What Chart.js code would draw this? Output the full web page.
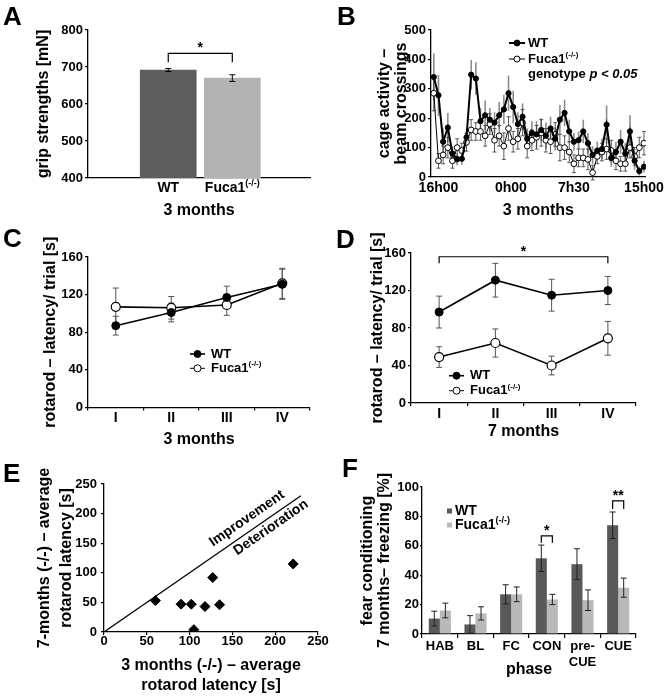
<!DOCTYPE html>
<html><head><meta charset="utf-8">
<script src="https://cdn.jsdelivr.net/npm/chart.js@4.4.1/dist/chart.umd.min.js"></script>
<style>
html,body{margin:0;padding:0;background:#fff;}
#wrap{position:relative;width:668px;height:696px;overflow:hidden;background:#fff;}
canvas{position:absolute;}
</style></head><body>
<div id="wrap">
<canvas id="cA" width="334" height="222" style="left:0;top:0"></canvas>
<canvas id="cB" width="334" height="222" style="left:334px;top:0"></canvas>
<canvas id="cC" width="334" height="234" style="left:0;top:218px"></canvas>
<canvas id="cD" width="334" height="234" style="left:334px;top:218px"></canvas>
<canvas id="cE" width="334" height="251" style="left:0;top:445px"></canvas>
<canvas id="cF" width="334" height="251" style="left:334px;top:445px"></canvas>
</div>
<script>
// ---------------- DATA ----------------
const seriesNames = ['WT', 'Fuca1'];
const koSup = '(-/-)';

// A: grip strength
const gripMean = [692, 670];
const gripErr = [4, 9];
const gripSig = [737, 713]; // bracket top / leg end

// B: cage activity (half-hour bins)
const cageTickLabels = ['16h00', '0h00', '7h30', '15h00'];
const cageTickPos = [1, 16.5, 30, 45];
const cageWT = [340,278,120,168,80,60,62,135,348,335,190,210,195,185,210,230,285,238,180,205,130,150,145,160,140,165,130,195,218,155,120,125,155,115,75,90,95,178,65,85,120,80,155,55,20,35];
const cageWTErr = [80,70,45,50,25,20,20,30,50,55,45,50,40,35,45,50,60,55,40,45,35,40,45,40,45,40,40,50,45,40,30,30,40,35,30,30,35,65,30,35,40,35,55,30,15,20];
const cageKO = [285,55,75,100,55,100,90,118,160,155,155,140,180,125,140,105,165,120,130,185,105,125,135,150,125,120,145,100,100,85,45,65,65,60,15,70,85,95,90,55,45,45,100,70,100,115];
const cageKOErr = [60,25,30,35,25,30,25,30,35,30,30,35,35,40,35,45,40,35,35,45,40,35,40,45,40,40,40,45,40,35,30,30,30,35,25,25,30,35,35,30,25,25,35,30,35,40];

// C / D: rotarod
const trials = ['I', 'II', 'III', 'IV'];
const rot3WT = [87, 101, 117, 131];
const rot3WTErr = [10, 10, 12, 16];
const rot3KO = [107, 106, 109, 132];
const rot3KOErr = [20, 12, 11, 16];
const rot7WT = [97, 131, 115, 120];
const rot7WTErr = [17, 18, 17, 15];
const rot7KO = [49, 64, 40, 69];
const rot7KOErr = [11, 15, 10, 18];
const rot7Sig = [156, 149];

// E: scatter 3 vs 7 months
const rotX3 = [60, 90, 102, 105, 118, 127, 135, 221];
const rotY7 = [53, 47, 47, 4, 43, 92, 46, 115];
const diagX = [0, 230];
const diagY = [0, 230];

// F: fear conditioning
const phases = ['HAB', 'BL', 'FC', 'CON', ['pre-', 'CUE'], 'CUE'];
const fearWT = [10.5, 6.5, 27, 51.5, 47.5, 74];
const fearWTErr = [5, 6, 6.5, 9, 10.5, 9];
const fearKO = [16, 14, 27, 23.5, 23, 31.5];
const fearKOErr = [5, 4.5, 5, 3.5, 7, 6.5];
const fearSig = [{i: 3, top: 66.7, leg: 62, label: '*'}, {i: 5, top: 90.5, leg: 85, label: '**'}];

// ---------------- HELPERS ----------------
const FAM = '"Liberation Sans", Arial, Helvetica, sans-serif';
Chart.defaults.font.family = FAM;
Chart.defaults.font.weight = 'bold';
Chart.defaults.font.size = 13;
Chart.defaults.color = '#000';

function rich(ctx, x, y, segs, size, align) {
  const f = s => (s === 'i' ? 'italic bold ' : 'bold ') + (s === 's' ? Math.round(size * 0.62) : size) + 'px ' + FAM;
  let w = 0;
  for (const [t, s] of segs) { ctx.font = f(s); w += ctx.measureText(t).width; }
  let cx = align === 'center' ? x - w / 2 : align === 'right' ? x - w : x;
  ctx.textAlign = 'left'; ctx.textBaseline = 'middle'; ctx.fillStyle = '#000';
  for (const [t, s] of segs) { ctx.font = f(s); ctx.fillText(t, cx, s === 's' ? y - size * 0.33 : y); cx += ctx.measureText(t).width; }
}
const koSegs = [[seriesNames[1], 'n'], [koSup, 's']];

function letter(ctx, L, x, y) {
  ctx.save(); ctx.font = 'bold 26px ' + FAM; ctx.fillStyle = '#000';
  ctx.textAlign = 'left'; ctx.textBaseline = 'alphabetic'; ctx.fillText(L, x, y); ctx.restore();
}
function bracket(ctx, x1, x2, yTop, yLeg, label, size) {
  ctx.save(); ctx.strokeStyle = '#000'; ctx.lineWidth = 1.2;
  ctx.beginPath(); ctx.moveTo(x1, yLeg); ctx.lineTo(x1, yTop); ctx.lineTo(x2, yTop); ctx.lineTo(x2, yLeg); ctx.stroke();
  ctx.font = 'bold ' + size + 'px ' + FAM; ctx.fillStyle = '#000'; ctx.textAlign = 'center'; ctx.textBaseline = 'alphabetic';
  ctx.fillText(label, (x1 + x2) / 2, yTop - 1); ctx.restore();
}
function legLine(ctx, x1, x2, y, lw, filled, r) {
  ctx.save(); ctx.strokeStyle = '#000'; ctx.lineWidth = lw;
  ctx.beginPath(); ctx.moveTo(x1, y); ctx.lineTo(x2, y); ctx.stroke();
  ctx.beginPath(); ctx.arc((x1 + x2) / 2, y, r, 0, Math.PI * 2);
  ctx.fillStyle = filled ? '#000' : '#fff'; ctx.fill(); ctx.lineWidth = 1; ctx.stroke(); ctx.restore();
}

function drawErr(chart, behind) {
  const ctx = chart.ctx;
  chart.data.datasets.forEach((ds, di) => {
    const eb = ds.errorBars;
    if (!eb || (!!eb.behind) !== behind) return;
    const meta = chart.getDatasetMeta(di);
    const ys = chart.scales[meta.yAxisID];
    ctx.save(); ctx.strokeStyle = eb.color; ctx.lineWidth = eb.width;
    meta.data.forEach((el, i) => {
      const raw = ds.data[i];
      const v = (typeof raw === 'object') ? raw.y : raw;
      const e = eb.values[i];
      const x = el.x, y1 = ys.getPixelForValue(v + e), y2 = ys.getPixelForValue(v - e);
      ctx.beginPath(); ctx.moveTo(x, y1); ctx.lineTo(x, y2);
      if (eb.cap) {
        ctx.moveTo(x - eb.cap, y1); ctx.lineTo(x + eb.cap, y1);
        ctx.moveTo(x - eb.cap, y2); ctx.lineTo(x + eb.cap, y2);
      }
      ctx.stroke();
    });
    ctx.restore();
  });
}
const errPlugin = {
  id: 'errbars',
  beforeDatasetsDraw(c) { drawErr(c, true); },
  afterDatasetsDraw(c) { drawErr(c, false); }
};

function yAxis(min, max, step, width, title, tpad, lh, tl, pad) {
  return {
    type: 'linear', min, max,
    ticks: {stepSize: step, font: {size: 13, weight: 'bold'}, color: '#000', padding: pad},
    grid: {drawOnChartArea: false, drawTicks: true, tickLength: tl, color: '#000', lineWidth: 1.2},
    border: {color: '#000', width: 1.3},
    title: {display: true, text: title, color: '#000', font: {size: 16, weight: 'bold', lineHeight: lh}, padding: {top: tpad, bottom: 0}},
    afterFit(s) { s.width = width; }
  };
}
function xTitle(text, pb, lh) {
  return {display: true, text, color: '#000', font: {size: 16, weight: 'bold', lineHeight: lh || 1.2}, padding: {top: 0, bottom: pb}};
}
function baseOpts(pad) {
  return {
    responsive: false, animation: false, devicePixelRatio: 1,
    layout: {padding: pad},
    plugins: {legend: {display: false}, tooltip: {enabled: false}}
  };
}

// ---------------- A ----------------
new Chart(document.getElementById('cA'), {
  type: 'bar',
  data: {datasets: [{
    data: gripMean.map((v, i) => ({x: i + 1, y: v})),
    backgroundColor: ['#5e5e5e', '#b3b3b3'], barThickness: 56,
    errorBars: {values: gripErr, color: '#000', width: 1, cap: 3}
  }]},
  options: Object.assign(baseOpts({left: 0, top: 30, right: 24, bottom: 0}), {
    scales: {
      x: {type: 'linear', min: 0.18, max: 2.78, ticks: {display: false}, grid: {display: false},
          border: {color: '#000', width: 1.3}, title: xTitle('3 months', 1.4), afterFit(s) { s.height = 44; }},
      y: yAxis(400, 800, 100, 88, 'grip strengths [mN]', 34.4, 1.2, 3, 2)
    }
  }),
  plugins: [errPlugin, {id: 'exA', afterDraw(c) {
    const ctx = c.ctx, m = c.getDatasetMeta(0), y = c.scales.y;
    letter(ctx, 'A', 3, 25);
    rich(ctx, m.data[0].x, 188, [[seriesNames[0], 'n']], 14, 'center');
    rich(ctx, m.data[1].x, 188, koSegs, 14, 'center');
    bracket(ctx, m.data[0].x, m.data[1].x, y.getPixelForValue(gripSig[0]), y.getPixelForValue(gripSig[1]), '*', 14);
  }}]
});

// ---------------- B ----------------
new Chart(document.getElementById('cB'), {
  type: 'line',
  data: {datasets: [
    {data: cageWT.map((v, i) => ({x: i, y: v})), borderColor: '#000', borderWidth: 2, tension: 0,
     pointRadius: 2.6, pointBackgroundColor: '#000', pointBorderColor: '#000', pointBorderWidth: 1,
     errorBars: {values: cageWTErr, color: '#8c8c8c', width: 1.6, cap: 0, behind: true}},
    {data: cageKO.map((v, i) => ({x: i, y: v})), borderColor: '#000', borderWidth: 1, tension: 0,
     pointRadius: 2.9, pointBackgroundColor: '#fff', pointBorderColor: '#000', pointBorderWidth: 1,
     errorBars: {values: cageKOErr, color: '#333', width: 0.8, cap: 2, behind: true}}
  ]},
  options: Object.assign(baseOpts({left: 0, top: 30, right: 22, bottom: 0}), {
    scales: {
      x: {type: 'linear', min: -0.6, max: 45.4,
          afterBuildTicks(s) { s.ticks = cageTickPos.map(v => ({value: v})); },
          ticks: {autoSkip: false, maxRotation: 0, font: {size: 14, weight: 'bold', lineHeight: 1}, padding: 4, color: '#000',
                  callback: v => { const k = cageTickPos.indexOf(v); return k >= 0 ? cageTickLabels[k] : ''; }},
          grid: {display: false, drawTicks: false}, border: {color: '#000', width: 1.3},
          title: xTitle('3 months', 1.4), afterFit(s) { s.height = 45; }},
      y: yAxis(0, 500, 100, 97, ['cage activity –', 'beam crossings'], 41.8, 1.06, 3, 2)
    }
  }),
  plugins: [errPlugin, {id: 'exB', afterDraw(c) {
    const ctx = c.ctx;
    letter(ctx, 'B', 3, 25);
    legLine(ctx, 175, 191, 43, 2, true, 3);
    rich(ctx, 194, 43, [[seriesNames[0], 'n']], 13, 'left');
    legLine(ctx, 175, 191, 59, 1, false, 3);
    rich(ctx, 194, 59, koSegs, 13, 'left');
    rich(ctx, 194, 74, [['genotype ', 'n'], ['p < 0.05', 'i']], 13, 'left');
  }}]
});

// ---------------- C / D ----------------
function rotChart(id, wt, wtE, ko, koE, area, yW, yTpad, xH, xPb, xTitleText, tickPad, draw) {
  return new Chart(document.getElementById(id), {
    type: 'line',
    data: {labels: trials, datasets: [
      {data: wt, borderColor: '#000', borderWidth: 1.6, tension: 0, pointRadius: 4,
       pointBackgroundColor: '#000', pointBorderColor: '#000', pointBorderWidth: 1,
       errorBars: {values: wtE, color: '#555', width: 1, cap: 3, behind: true}},
      {data: ko, borderColor: '#000', borderWidth: 1.6, tension: 0, pointRadius: 4.5,
       pointBackgroundColor: '#fff', pointBorderColor: '#000', pointBorderWidth: 1.2,
       errorBars: {values: koE, color: '#555', width: 1, cap: 3, behind: true}}
    ]},
    options: Object.assign(baseOpts(area), {
      scales: {
        x: {type: 'category', offset: true,
            grid: {offset: true, drawOnChartArea: false, drawTicks: true, tickLength: 3, color: '#000', lineWidth: 1.2},
            border: {color: '#000', width: 1.3},
            ticks: {font: {size: 14, weight: 'bold', lineHeight: 1}, padding: tickPad, color: '#000'},
            title: xTitle(xTitleText, xPb), afterFit(s) { s.height = xH; }},
        y: yAxis(0, 160, 40, yW, 'rotarod – latency/ trial [s]', yTpad, 1.2, 3, 2)
      }
    }),
    plugins: [errPlugin, {id: 'ex' + id, afterDraw: draw}]
  });
}
rotChart('cC', rot3WT, rot3WTErr, rot3KO, rot3KOErr, {left: 0, top: 39, right: 24, bottom: 0}, 88, 41.4, 44.5, 2.9, '3 months', 1, c => {
  const ctx = c.ctx;
  letter(ctx, 'C', 3, 29);
  legLine(ctx, 190, 205, 136, 1.6, true, 3.5);
  rich(ctx, 211, 136, [[seriesNames[0], 'n']], 13, 'left');
  legLine(ctx, 190, 205, 150.3, 1, false, 3.5);
  rich(ctx, 211, 150.3, koSegs, 13, 'left');
});
rotChart('cD', rot7WT, rot7WTErr, rot7KO, rot7KOErr, {left: 0, top: 35, right: 32, bottom: 0}, 77, 34.4, 49, 10.4, '7 months', 1, c => {
  const ctx = c.ctx, y = c.scales.y, m = c.getDatasetMeta(0);
  letter(ctx, 'D', 2, 30);
  bracket(ctx, m.data[0].x, m.data[3].x, y.getPixelForValue(rot7Sig[0]), y.getPixelForValue(rot7Sig[1]), '*', 14);
  legLine(ctx, 115, 130, 157.7, 1.6, true, 3.5);
  rich(ctx, 136, 157.7, [[seriesNames[0], 'n']], 13, 'left');
  legLine(ctx, 115, 130, 172.7, 1, false, 3.5);
  rich(ctx, 136, 172.7, koSegs, 13, 'left');
});

// ---------------- E ----------------
new Chart(document.getElementById('cE'), {
  type: 'scatter',
  data: {datasets: [
    {data: rotX3.map((x, i) => ({x, y: rotY7[i]})), pointStyle: 'rectRot', pointRadius: 5,
     backgroundColor: '#000', borderColor: '#000', borderWidth: 1},
    {type: 'line', data: diagX.map((x, i) => ({x, y: diagY[i]})), borderColor: '#000', borderWidth: 1.3,
     pointRadius: 0, showLine: true, tension: 0}
  ]},
  options: Object.assign(baseOpts({left: 0, top: 39, right: 16, bottom: 0}), {
    scales: {
      x: {type: 'linear', min: 0, max: 250,
          ticks: {stepSize: 50, font: {size: 13, weight: 'bold', lineHeight: 1}, padding: 0, color: '#000'},
          grid: {drawOnChartArea: false, drawTicks: true, tickLength: 3, color: '#000', lineWidth: 1.2},
          border: {color: '#000', width: 1.3},
          title: xTitle(['3 months (-/-) – average', 'rotarod latency [s]'], 1.2), afterFit(s) { s.height = 64; }},
      y: yAxis(0, 250, 50, 104, ['7-months (-/-) – average', 'rotarod latency [s]'], 34, 1.375, 3, 4)
    }
  }),
  plugins: [{id: 'exE', afterDraw(c) {
    const ctx = c.ctx, xs = c.scales.x, ys = c.scales.y;
    letter(ctx, 'E', 3, 37);
    const ang = Math.atan2(ys.getPixelForValue(diagY[1]) - ys.getPixelForValue(diagY[0]),
                           xs.getPixelForValue(diagX[1]) - xs.getPixelForValue(diagX[0]));
    const along = (t, off, text) => {
      ctx.save(); ctx.translate(xs.getPixelForValue(t), ys.getPixelForValue(t)); ctx.rotate(ang);
      ctx.font = 'bold 14px ' + FAM; ctx.fillStyle = '#000'; ctx.textAlign = 'center'; ctx.textBaseline = 'middle';
      ctx.fillText(text, 0, off); ctx.restore();
    };
    along(175, -12, 'Improvement');
    along(189, 9, 'Deterioration');
  }}]
});

// ---------------- F ----------------
new Chart(document.getElementById('cF'), {
  type: 'bar',
  data: {labels: phases, datasets: [
    {data: fearWT, backgroundColor: '#595959', categoryPercentage: 0.62, barPercentage: 1,
     errorBars: {values: fearWTErr, color: '#222', width: 1, cap: 3}},
    {data: fearKO, backgroundColor: '#b9b9b9', categoryPercentage: 0.62, barPercentage: 1,
     errorBars: {values: fearKOErr, color: '#222', width: 1, cap: 3}}
  ]},
  options: Object.assign(baseOpts({left: 0, top: 42, right: 32, bottom: 0}), {
    scales: {
      x: {type: 'category',
          grid: {offset: true, drawOnChartArea: false, drawTicks: true, tickLength: 4, color: '#000', lineWidth: 1.2},
          border: {color: '#000', width: 1.3},
          ticks: {font: {size: 13, weight: 'bold', lineHeight: 1.2}, padding: 1, color: '#000', maxRotation: 0, autoSkip: false},
          title: xTitle('phase', 16.4), afterFit(s) { s.height = 62; }},
      y: yAxis(0, 100, 20, 88, ['fear conditioning', '7 months– freezing [%]'], 24.5, 1.1, 2, 1)
    }
  }),
  plugins: [errPlugin, {id: 'exF', afterDraw(c) {
    const ctx = c.ctx, y = c.scales.y, m0 = c.getDatasetMeta(0), m1 = c.getDatasetMeta(1);
    letter(ctx, 'F', 8, 32);
    fearSig.forEach(s => bracket(ctx, m0.data[s.i].x, m1.data[s.i].x, y.getPixelForValue(s.top), y.getPixelForValue(s.leg), s.label, 14));
    ctx.fillStyle = '#595959'; ctx.fillRect(113, 63.5, 5, 5);
    rich(ctx, 121, 66, [[seriesNames[0], 'n']], 14, 'left');
    ctx.fillStyle = '#b9b9b9'; ctx.fillRect(113, 77.5, 5, 5);
    rich(ctx, 121, 80, koSegs, 14, 'left');
  }}]
});
</script>
</body></html>
